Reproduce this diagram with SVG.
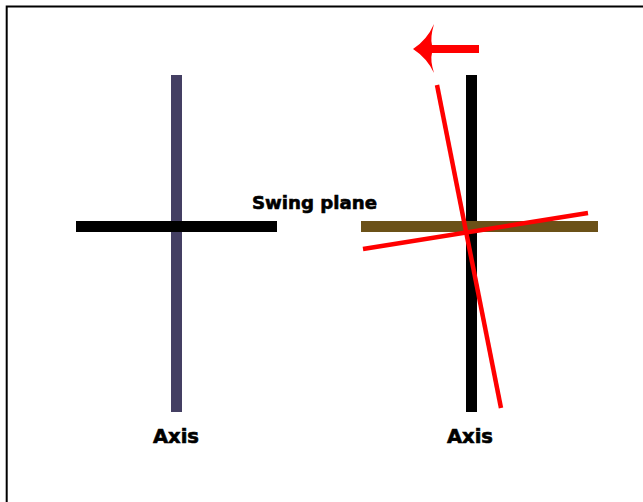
<svg xmlns="http://www.w3.org/2000/svg" width="643" height="502" viewBox="0 0 643 502">
<style>
.lbl{font-family:"DejaVu Sans",Verdana,sans-serif;font-weight:bold;fill:#000;stroke:#000;stroke-width:0.6;}
.red{stroke:#ff0000;stroke-width:4.5;stroke-linecap:butt;fill:none;}
</style>
<rect width="643" height="502" fill="#fff"/>
<path d="M6.7,502 L6.7,6.5 L643,6.5" fill="none" stroke="#000" stroke-width="2"/>
<g id="left-cross">
<rect x="171" y="75" width="11" height="337" fill="#443f63"/>
<rect x="76" y="221" width="201" height="11" fill="#000"/>
</g>
<g id="right-cross">
<rect x="466" y="75" width="11" height="337" fill="#000"/>
<rect x="361" y="221" width="237" height="11" fill="#6b5118"/>
<line class="red" x1="437" y1="85" x2="501" y2="408"/>
<line class="red" x1="363" y1="249" x2="588" y2="213"/>
</g>
<g id="arrow">
<path d="M413,49 Q427,40 434,24 Q430,38 432,45 L479,45 L479,53 L432,53 Q430,60 434,73 Q427,58 413,49 Z" fill="#ff0000"/>
</g>
<g id="labels">
<text class="lbl" x="252" y="209" font-size="18" textLength="125" lengthAdjust="spacingAndGlyphs">Swing plane</text>
<text class="lbl" x="153" y="443" font-size="19" textLength="46" lengthAdjust="spacingAndGlyphs">Axis</text>
<text class="lbl" x="447" y="443" font-size="19" textLength="46" lengthAdjust="spacingAndGlyphs">Axis</text>
</g>
</svg>
